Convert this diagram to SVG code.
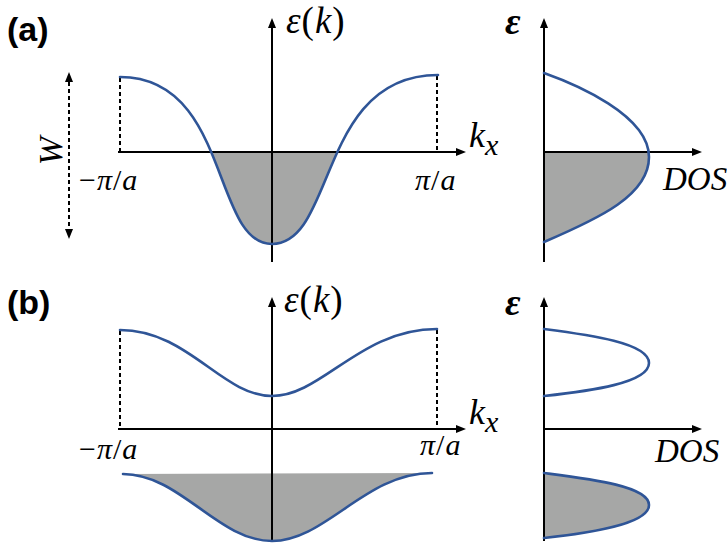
<svg xmlns="http://www.w3.org/2000/svg" width="727" height="544" viewBox="0 0 727 544">
<style>
.ax{stroke:#000;stroke-width:2;fill:none}
.dash{stroke:#000;stroke-width:2;stroke-dasharray:4 3;fill:none}
.cv{stroke:#2f5597;stroke-width:2.6;fill:none;stroke-linecap:round}
.fl{fill:#a6a7a6;stroke:none}
.lbl{font-family:"Liberation Sans",Arial,sans-serif;font-weight:bold;font-size:34px;fill:#000}
.m{font-family:"Liberation Serif","Times New Roman",serif;fill:#000}
.it{font-style:italic}
</style>
<defs>
<marker id="arr" markerUnits="userSpaceOnUse" markerWidth="10" markerHeight="8" refX="0" refY="4" orient="auto-start-reverse" viewBox="0 0 10 8">
<path d="M0,0 L10,4 L0,8 Z" fill="#000"/>
</marker>
<clipPath id="clipA"><rect x="100" y="152" width="360" height="120"/></clipPath>
<clipPath id="clipD"><rect x="540" y="152" width="130" height="110"/></clipPath>
</defs>

<g id="labels">
<text class="lbl" x="7" y="41">(a)</text>
<text class="lbl" x="7" y="314">(b)</text>
</g>

<g id="fills">
<path class="fl" clip-path="url(#clipA)" d="M120,77 C230,77 212,244 272,244 C336,244 318,75 438,75 L438,152 L120,152 Z"/>
<path class="fl" clip-path="url(#clipD)" d="M544,73 C575,84 649,115 649,157 C649,195 600,218 544,242 Z"/>
<path class="fl" d="M123,474 C180,474 218,541 272,541 C326,541 365,473 432,473 Z"/>
<path class="fl" d="M544,473 C590,479 649,486 649,505 C649,524 590,533 544,538 Z"/>
</g>

<g id="connectors">
<line class="ax" x1="118" y1="152" x2="456" y2="152" marker-end="url(#arr)"/>
<line class="ax" x1="272" y1="262" x2="272" y2="28" marker-end="url(#arr)"/>
<line class="dash" x1="120" y1="78" x2="120" y2="152"/>
<line class="dash" x1="437" y1="76" x2="437" y2="152"/>
<line class="dash" x1="69" y1="82" x2="69" y2="229" marker-start="url(#arr)" marker-end="url(#arr)"/>
<line class="ax" x1="544" y1="262" x2="544" y2="28" marker-end="url(#arr)"/>
<line class="ax" x1="544" y1="152" x2="692" y2="152" marker-end="url(#arr)"/>
<line class="ax" x1="118" y1="429" x2="456" y2="429" marker-end="url(#arr)"/>
<line class="ax" x1="272" y1="541" x2="272" y2="307" marker-end="url(#arr)"/>
<line class="dash" x1="120" y1="331" x2="120" y2="429"/>
<line class="dash" x1="437" y1="330" x2="437" y2="429"/>
<line class="ax" x1="544" y1="541" x2="544" y2="307" marker-end="url(#arr)"/>
<line class="ax" x1="544" y1="429" x2="692" y2="429" marker-end="url(#arr)"/>
</g>

<g id="curves">
<path id="band-a" class="cv" d="M120,77 C230,77 212,244 272,244 C336,244 318,75 438,75"/>
<path id="dos-a" class="cv" d="M544,73 C575,84 649,115 649,157 C649,195 600,218 544,242"/>
<path id="band-b-upper" class="cv" d="M120,330 C188,330 222,396 272,396 C322,396 360,329 437,329"/>
<path id="band-b-lower" class="cv" d="M123,474 C180,474 218,541 272,541 C326,541 365,473 432,473"/>
<path id="dos-b-upper" class="cv" d="M544,329 C590,335 649,343 649,363 C649,383 590,391 544,396"/>
<path id="dos-b-lower" class="cv" d="M544,473 C590,479 649,486 649,505 C649,524 590,533 544,538"/>
</g>

<g id="math-labels">
<text class="m" x="286" y="33" font-size="37" letter-spacing="1"><tspan class="it">ε</tspan>(<tspan class="it">k</tspan>)</text>
<text class="m it" x="505" y="34" font-size="38" font-weight="bold">ε</text>
<text class="m it" x="469" y="147" font-size="36">k<tspan font-size="30" dy="8">x</tspan></text>
<text class="m" x="79" y="190" font-size="30" letter-spacing="1">−<tspan class="it">π</tspan>/<tspan class="it">a</tspan></text>
<text class="m" x="415" y="190" font-size="30" letter-spacing="1"><tspan class="it">π</tspan>/<tspan class="it">a</tspan></text>
<text class="m it" x="663" y="190" font-size="33">DOS</text>
<text class="m it" transform="translate(62,151) rotate(-90)" text-anchor="middle" font-size="34">W</text>

<text class="m" x="284" y="312" font-size="37" letter-spacing="1"><tspan class="it">ε</tspan>(<tspan class="it">k</tspan>)</text>
<text class="m it" x="505" y="315" font-size="38" font-weight="bold">ε</text>
<text class="m it" x="469" y="424" font-size="36">k<tspan font-size="30" dy="8">x</tspan></text>
<text class="m" x="79" y="459" font-size="30" letter-spacing="1">−<tspan class="it">π</tspan>/<tspan class="it">a</tspan></text>
<text class="m" x="420" y="455" font-size="30" letter-spacing="1"><tspan class="it">π</tspan>/<tspan class="it">a</tspan></text>
<text class="m it" x="655" y="462" font-size="33">DOS</text>
</g>
</svg>
